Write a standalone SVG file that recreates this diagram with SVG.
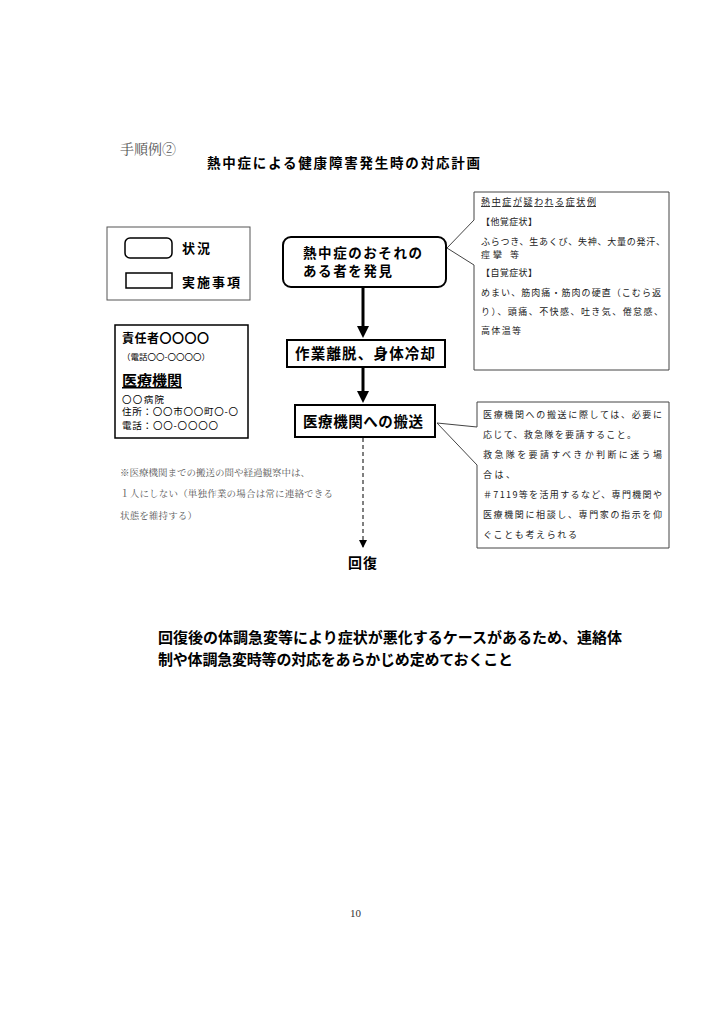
<svg xmlns="http://www.w3.org/2000/svg" width="724" height="1024" viewBox="0 0 724 1024">
<style>
.g{font-family:"Noto Sans CJK JP","Noto Sans",sans-serif;fill:#000}
.b{font-weight:bold}
.m{font-family:"Noto Serif CJK JP","Noto Sans CJK JP",serif;fill:#555}
.node{fill:#fff;stroke:#000;stroke-width:2}
.thin{fill:#fff;stroke:#444;stroke-width:1}
.s{font-size:9px;fill:#222}
</style>
<defs>
<marker id="ah" markerWidth="4" markerHeight="4" refX="2" refY="2" orient="auto" markerUnits="strokeWidth"><path d="M0,0 L4,2 L0,4 z" fill="#000"/></marker>
<marker id="ahs" markerWidth="8" markerHeight="8" refX="7" refY="4" orient="auto" markerUnits="userSpaceOnUse"><path d="M0,0 L8,4 L0,8 z" fill="#000"/></marker>
</defs>
<rect width="724" height="1024" fill="#fff"/>

<g id="titles">
<text class="m" x="120" y="154" font-size="14" textLength="56">手順例②</text>
<text class="g b" x="207" y="168" font-size="13.5" textLength="273" lengthAdjust="spacing">熱中症による健康障害発生時の対応計画</text>
</g>

<g id="legend">
<rect x="107" y="227" width="143" height="73" fill="#fff" stroke="#555" stroke-width="1"/>
<rect x="125" y="238" width="47" height="20" rx="5" fill="#fff" stroke="#000" stroke-width="1.5"/>
<text class="g b" x="182" y="253" font-size="13" textLength="28" lengthAdjust="spacing">状況</text>
<rect x="126" y="273" width="46" height="15" fill="#fff" stroke="#000" stroke-width="1.5"/>
<text class="g b" x="182" y="287" font-size="13" textLength="58" lengthAdjust="spacing">実施事項</text>
</g>

<g id="info">
<rect x="115" y="325" width="133" height="113" fill="#fff" stroke="#000" stroke-width="1.5"/>
<text class="g b" x="122" y="343" font-size="12" textLength="87" lengthAdjust="spacing">責任者〇〇〇〇</text>
<text class="g" x="122" y="360" font-size="8.5" textLength="88" lengthAdjust="spacing">（電話〇〇-〇〇〇〇）</text>
<text class="g b" x="122" y="386" font-size="15" textLength="60" lengthAdjust="spacing" text-decoration="underline">医療機関</text>
<text class="g" x="122" y="403" font-size="9.5" textLength="42" lengthAdjust="spacing">〇〇病院</text>
<text class="g" x="122" y="415" font-size="9.5" textLength="116" lengthAdjust="spacing">住所：〇〇市〇〇町〇-〇</text>
<text class="g" x="122" y="429" font-size="9.5" textLength="96" lengthAdjust="spacing">電話：〇〇-〇〇〇〇</text>
</g>

<g id="n1">
<rect class="node" x="283" y="237" width="163" height="50" rx="8"/>
<text class="g b" x="303" y="258" font-size="13.5" textLength="119" lengthAdjust="spacing">熱中症のおそれの</text>
<text class="g b" x="303" y="276" font-size="13.5" textLength="89" lengthAdjust="spacing">ある者を発見</text>
</g>

<g id="n2">
<rect class="node" x="287" y="340" width="158" height="27"/>
<text class="g b" x="295" y="359" font-size="14.5" textLength="140" lengthAdjust="spacing">作業離脱、身体冷却</text>
</g>

<g id="n3">
<rect class="node" x="295" y="405" width="140" height="32"/>
<text class="g b" x="303" y="427" font-size="14.5" textLength="120" lengthAdjust="spacing">医療機関への搬送</text>
</g>

<g id="n4">
<text class="g b" x="348" y="568" font-size="14" textLength="29" lengthAdjust="spacing">回復</text>
</g>

<g id="callout1">
<path d="M474,192 H669 V370 H474 V265 L447,248 L474,220 Z" class="thin"/>
<text class="g s" x="481" y="205" textLength="115" lengthAdjust="spacing" text-decoration="underline">熱中症が疑われる症状例</text>
<text class="g s" x="481" y="225" textLength="56" lengthAdjust="spacing">【他覚症状】</text>
<text class="g s" x="481" y="245" textLength="184" lengthAdjust="spacing">ふらつき、生あくび、失神、大量の発汗、</text>
<text class="g s" x="481" y="258" textLength="38" lengthAdjust="spacing">痙攣 等</text>
<text class="g s" x="481" y="276" textLength="56" lengthAdjust="spacing">【自覚症状】</text>
<text class="g s" x="481" y="296" textLength="180" lengthAdjust="spacing">めまい、筋肉痛・筋肉の硬直（こむら返</text>
<text class="g s" x="481" y="315" textLength="182" lengthAdjust="spacing">り）、頭痛、不快感、吐き気、倦怠感、</text>
<text class="g s" x="481" y="334" textLength="40" lengthAdjust="spacing">高体温等</text>
</g>

<g id="callout2">
<path d="M477,402 H669 V548 H477 V465 L437,423 L477,427 Z" class="thin"/>
<text class="g s" x="483" y="418" textLength="179" lengthAdjust="spacing">医療機関への搬送に際しては、必要に</text>
<text class="g s" x="483" y="438" textLength="153" lengthAdjust="spacing">応じて、救急隊を要請すること。</text>
<text class="g s" x="483" y="458" textLength="179" lengthAdjust="spacing">救急隊を要請すべきか判断に迷う場</text>
<text class="g s" x="483" y="478" textLength="32" lengthAdjust="spacing">合は、</text>
<text class="g s" x="483" y="498" textLength="179" lengthAdjust="spacing">＃7119等を活用するなど、専門機関や</text>
<text class="g s" x="483" y="518" textLength="179" lengthAdjust="spacing">医療機関に相談し、専門家の指示を仰</text>
<text class="g s" x="483" y="538" textLength="94" lengthAdjust="spacing">ぐことも考えられる</text>
</g>

<g id="connectors">
<line x1="363" y1="288" x2="363" y2="332" stroke="#000" stroke-width="3" marker-end="url(#ah)"/>
<line x1="363" y1="368" x2="363" y2="397" stroke="#000" stroke-width="3" marker-end="url(#ah)"/>
<line x1="363" y1="438" x2="363" y2="547" stroke="#000" stroke-width="1" stroke-dasharray="4,3" marker-end="url(#ahs)"/>
</g>

<g id="notes">
<text class="m" x="120" y="476" font-size="9.5" textLength="190" lengthAdjust="spacing">※医療機関までの搬送の間や経過観察中は、</text>
<text class="m" x="120" y="497" font-size="9.5" textLength="213" lengthAdjust="spacing">１人にしない（単独作業の場合は常に連絡できる</text>
<text class="m" x="120" y="519" font-size="9.5" textLength="77" lengthAdjust="spacing">状態を維持する）</text>
<text class="g b" x="158" y="643" font-size="15" textLength="464" lengthAdjust="spacing">回復後の体調急変等により症状が悪化するケースがあるため、連絡体</text>
<text class="g b" x="158" y="665" font-size="15" textLength="355" lengthAdjust="spacing">制や体調急変時等の対応をあらかじめ定めておくこと</text>
<text x="350" y="917" font-size="11" style="font-family:'Liberation Serif',serif;fill:#333">10</text>
</g>
</svg>
